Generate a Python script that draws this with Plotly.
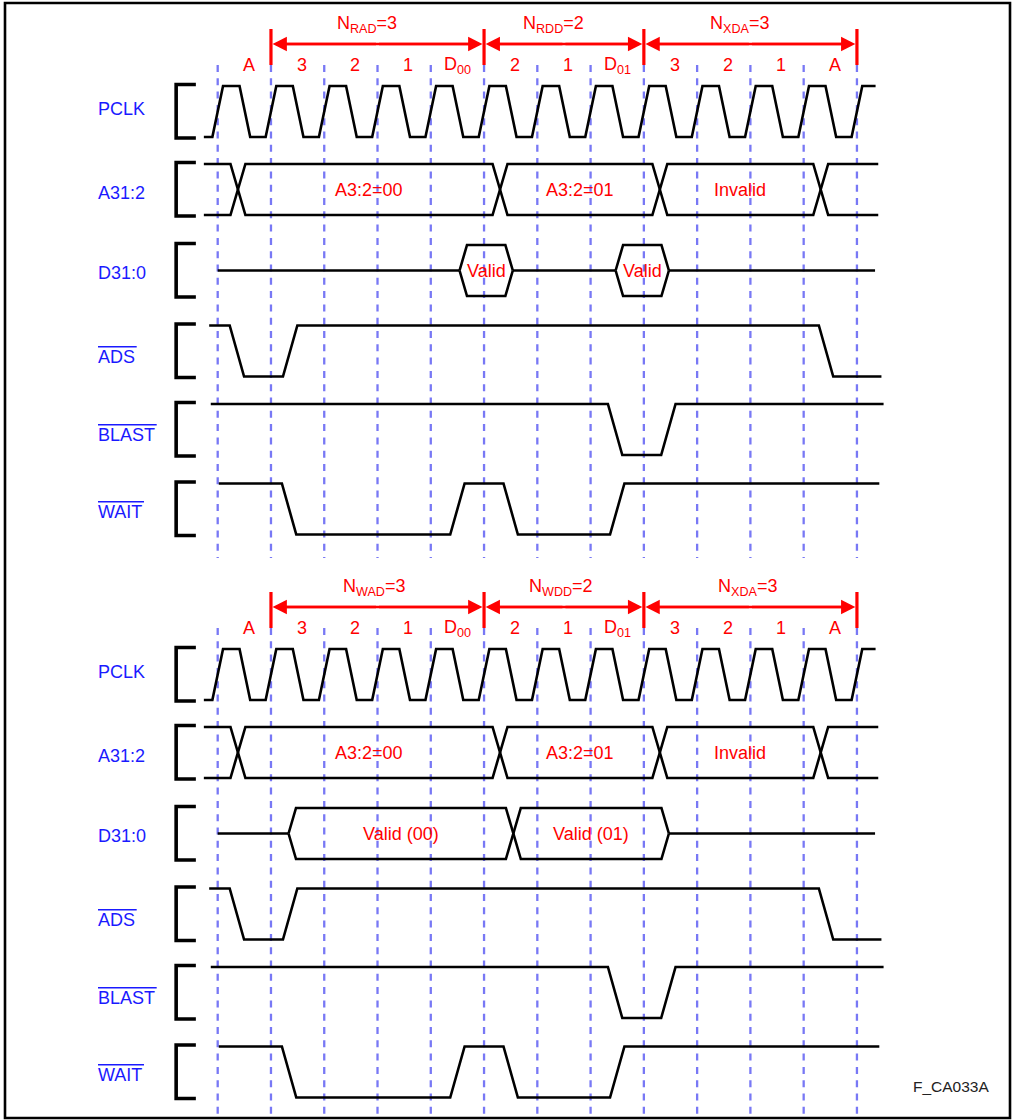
import plotly.graph_objects as go

# time unit = one PCLK period, t=0 is the first dashed line
GRID_T = [0, 1, 2, 3, 4, 5, 6, 7, 8, 9, 10, 11, 12]

CYCLE_LABELS = ["A", "3", "2", "1", "D<sub>00</sub>", "2", "1", "D<sub>01</sub>", "3", "2", "1", "A"]
CYCLE_T = [0.5, 1.5, 2.5, 3.5, 4.5, 5.5, 6.5, 7.5, 8.5, 9.5, 10.5, 11.5]

SPAN_EDGES = [1, 5, 8, 12]
SPAN_TEXT_READ = ["N<sub>RAD</sub>=3", "N<sub>RDD</sub>=2", "N<sub>XDA</sub>=3"]
SPAN_TEXT_WRITE = ["N<sub>WAD</sub>=3", "N<sub>WDD</sub>=2", "N<sub>XDA</sub>=3"]

SIGNALS = ["PCLK", "A31:2", "D31:0", "ADS", "BLAST", "WAIT"]
OVERBAR = [False, False, False, True, True, True]

# clock
PCLK_START, PCLK_END = -0.26, 12.35
PCLK_RISE = [0, 1, 2, 3, 4, 5, 6, 7, 8, 9, 10, 11, 12]
PCLK_FALL = [0.51, 1.51, 2.51, 3.51, 4.51, 5.51, 6.51, 7.51, 8.51, 9.51, 10.51, 11.51]

# address bus: boundaries (start, crossings..., end) and cell values
ADDR_BOUNDS = [-0.26, 0.38, 5.3, 8.3, 11.32, 12.4]
ADDR_VALUES = ["", "A3:2=00", "A3:2=01", "Invalid", ""]

# data bus, read cycle: idle line with two valid windows
DATA_READ_START, DATA_READ_END = 0, 12.34
DATA_READ_WINDOWS = [[4.54, 5.54], [7.47, 8.47]]
DATA_READ_VALUES = ["Valid", "Valid"]

# data bus, write cycle: one bus window split at a crossing
DATA_WRITE_START, DATA_WRITE_END = 0, 12.34
DATA_WRITE_WINDOWS = [[1.33, 5.55, 8.47]]
DATA_WRITE_VALUES = ["Valid (00)", "Valid (01)"]

# control signals: start, end, initial level, edge centres
ADS_WAVE = dict(start=-0.16, end=12.46, level=1, edges=[0.36, 1.36, 11.42])
BLAST_WAVE = dict(start=-0.13, end=12.5, level=1, edges=[7.46, 8.46])
WAIT_WAVE = dict(start=0.02, end=12.42, level=1, edges=[1.34, 4.5, 5.5, 7.5])

# ---- layout / style ----
W, H = 1013, 1120
X0, DX = 217.7, 53.27
ROW_TOP = [86, 164, 245, 325.5, 404, 483.5]
ROW_H = 51
LABEL_DY = [22.5, 29, 28, 31.5, 31, 28.5]
OVERBAR_W = [0, 0, 0, 38.7, 58.7, 46]
PANEL_SHIFT = [0, 563]
RED = "#ff0000"
BLUE = "#1a1aff"
GRID = "#7878f5"
FONT = "Liberation Sans, Arial, sans-serif"
LW = 2.6

fig = go.Figure()


def line(xs, ys, color="black", width=LW, dash=None):
    fig.add_trace(go.Scatter(x=xs, y=ys, mode="lines", hoverinfo="skip", showlegend=False,
                             line=dict(color=color, width=width, dash=dash)))


def digital(wave, top, ew=0.27):
    lvl = wave["level"]
    xs, ys = [wave["start"]], [top if lvl else top + ROW_H]
    for e in wave["edges"]:
        xs += [e - ew / 2, e + ew / 2]
        ys += [top if lvl else top + ROW_H]
        lvl = 1 - lvl
        ys += [top if lvl else top + ROW_H]
    xs.append(wave["end"])
    ys.append(top if lvl else top + ROW_H)
    line(xs, ys)


def bus(bounds, top, pointed, h=0.14):
    bot = top + ROW_H
    mid = (top + bot) / 2
    a, b = top, bot
    if pointed:
        xs = [bounds[0], bounds[0] + h]
        ya, yb = [mid, a], [mid, b]
    else:
        xs = [bounds[0]]
        ya, yb = [a], [b]
    for c in bounds[1:-1]:
        xs += [c - h, c + h]
        ya += [a, b]
        yb += [b, a]
        a, b = b, a
    if pointed:
        xs += [bounds[-1] - h, bounds[-1]]
        ya += [a, mid]
        yb += [b, mid]
    else:
        xs.append(bounds[-1])
        ya.append(a)
        yb.append(b)
    line(xs, ya)
    line(xs, yb)


def text(x, y, s, color=RED, size=18, xref="x", xanchor="center"):
    fig.add_annotation(x=x, y=y, xref=xref, yref="y", text=s, showarrow=False,
                       xanchor=xanchor, yanchor="middle",
                       font=dict(family=FONT, size=size, color=color))


for p, dy in enumerate(PANEL_SHIFT):
    # dashed clock grid
    gy0, gy1 = (65, 558) if p == 0 else (628, 1117)
    gx, gyy = [], []
    for t in GRID_T:
        gx += [t, t, None]
        gyy += [gy0, gy1, None]
    line(gx, gyy, color=GRID, width=2.3, dash="7px,6.3px")

    # span bars and arrows
    bx, byy = [], []
    for t in SPAN_EDGES:
        bx += [t, t, None]
        byy += [29 + dy, 65 + dy, None]
    line(bx, byy, color=RED, width=3.2)
    texts = SPAN_TEXT_READ if p == 0 else SPAN_TEXT_WRITE
    shift = -0.2 if p == 0 else -0.06
    for i, s in enumerate(texts):
        a0, a1 = SPAN_EDGES[i], SPAN_EDGES[i + 1]
        m = (a0 + a1) / 2
        line([a0 + 0.15, a1 - 0.15], [44 + dy, 44 + dy], color=RED, width=2.6)
        for tip in (a0, a1):
            fig.add_annotation(x=tip, y=44 + dy, ax=m, ay=44 + dy, xref="x", yref="y",
                               axref="x", ayref="y", text="", showarrow=True,
                               arrowhead=2, arrowsize=1.1, arrowwidth=2.6,
                               arrowcolor=RED, standoff=1.6)
        text(m + shift, 24 + dy, s)
    for t, s in zip(CYCLE_T, CYCLE_LABELS):
        off = 0 if s.startswith("D") else 0.08
        text(t + off, 65 + dy, s)

    # row labels and brackets
    for r, name in enumerate(SIGNALS):
        top = ROW_TOP[r] + dy
        line([-0.41, -0.78, -0.78, -0.41], [top - 1.5, top - 1.5, top + ROW_H + 1, top + ROW_H + 1],
             width=3.6)
        ly = top + LABEL_DY[r]
        text(96 / W, ly, name, color=BLUE, xref="paper", xanchor="left")
        if OVERBAR[r]:
            fig.add_shape(type="line", xref="paper", yref="y", x0=98 / W,
                          x1=(98 + OVERBAR_W[r]) / W, y0=ly - 10.3, y1=ly - 10.3,
                          line=dict(color=BLUE, width=1.6))

    # PCLK
    top = ROW_TOP[0] + dy
    cx, cy = [PCLK_START], [top + ROW_H]
    for i, r in enumerate(PCLK_RISE):
        cx += [r - 0.1, r + 0.1]
        cy += [top + ROW_H, top]
        if i < len(PCLK_FALL):
            f = PCLK_FALL[i]
            cx += [f - 0.1, f + 0.1]
            cy += [top, top + ROW_H]
    cx.append(PCLK_END)
    cy.append(top)
    line(cx, cy)

    # address bus
    top = ROW_TOP[1] + dy
    bus(ADDR_BOUNDS, top, pointed=False)
    for i, v in enumerate(ADDR_VALUES):
        if v:
            text((ADDR_BOUNDS[i] + ADDR_BOUNDS[i + 1]) / 2, top + ROW_H / 2, v)

    # data bus
    top = ROW_TOP[2] + dy
    mid = top + ROW_H / 2
    if p == 0:
        wins, vals, d0, d1 = DATA_READ_WINDOWS, DATA_READ_VALUES, DATA_READ_START, DATA_READ_END
    else:
        wins, vals, d0, d1 = DATA_WRITE_WINDOWS, DATA_WRITE_VALUES, DATA_WRITE_START, DATA_WRITE_END
    idle_x, idle_y = [d0], [mid]
    for w in wins:
        idle_x += [w[0], None, w[-1]]
        idle_y += [mid, None, mid]
    idle_x.append(d1)
    idle_y.append(mid)
    line(idle_x, idle_y)
    k = 0
    for w in wins:
        bus(w, top, pointed=True)
        for j in range(len(w) - 1):
            text((w[j] + w[j + 1]) / 2, mid, vals[k])
            k += 1

    # control lines
    digital(ADS_WAVE, ROW_TOP[3] + dy)
    digital(BLAST_WAVE, ROW_TOP[4] + dy)
    digital(WAIT_WAVE, ROW_TOP[5] + dy)

text(951 / W, 1086.7, "F_CA033A", color="#222222", size=15.5, xref="paper")

fig.add_shape(type="rect", xref="paper", yref="y", x0=5 / W, x1=1010 / W, y0=3, y1=1118,
              line=dict(color="black", width=2.6))

fig.update_layout(
    width=W, height=H, margin=dict(l=0, r=0, t=0, b=0),
    plot_bgcolor="white", paper_bgcolor="white",
    xaxis=dict(range=[-X0 / DX, (W - X0) / DX], visible=False, fixedrange=True),
    yaxis=dict(range=[H, 0], visible=False, fixedrange=True),
)

# page body has a default 8px margin; drop it so the figure sits at the window corner
fig.write_html("out.html", config={"displayModeBar": False},
               post_script="document.body.style.margin='0';")
